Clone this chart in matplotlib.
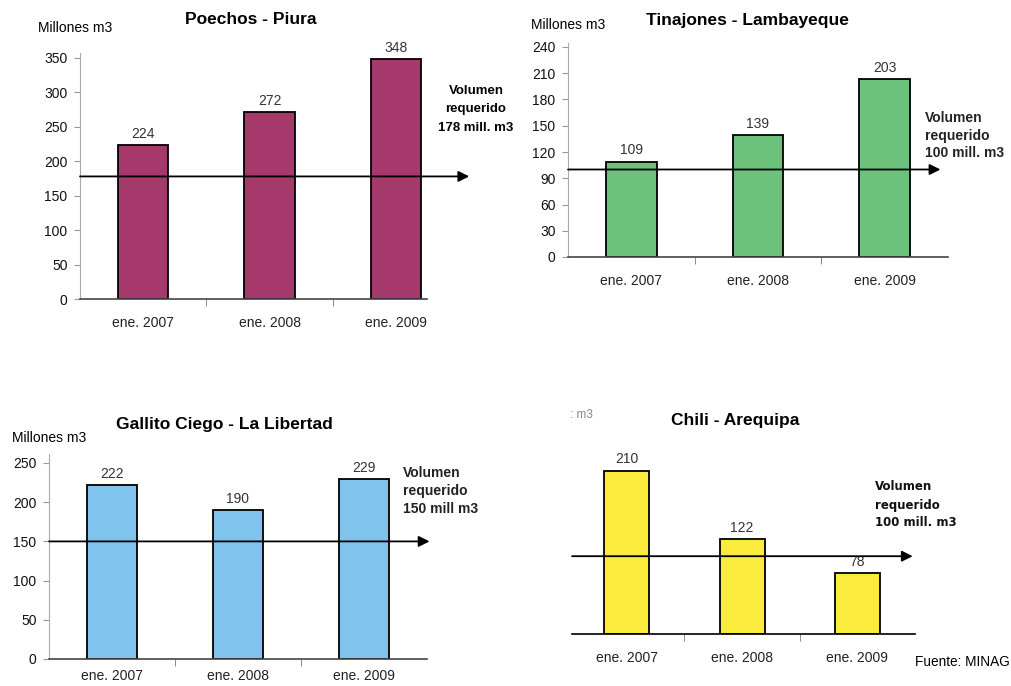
import matplotlib
matplotlib.use("Agg")
import matplotlib.pyplot as plt

plt.rcParams['font.family'] = ['Liberation Sans', 'DejaVu Sans']

# ---- data ----
fechas = ["ene. 2007", "ene. 2008", "ene. 2009"]
poechos = [224, 272, 348]
tinajones = [109, 139, 203]
gallito = [222, 190, 229]
chili = [210, 122, 78]
requerido = [178, 100, 150, 100]   # mill. m3
yticks_poechos = [0, 50, 100, 150, 200, 250, 300, 350]
yticks_tinajones = [0, 30, 60, 90, 120, 150, 180, 210, 240]
yticks_gallito = [0, 50, 100, 150, 200, 250]

W, H = 1012, 686
fig = plt.figure(figsize=(W / 100, H / 100), dpi=100)


def rect(x0, x1, y_top, y_bot):
    return [x0 / W, 1 - y_bot / H, (x1 - x0) / W, (y_bot - y_top) / H]


def ftext(x, y, s, **kw):
    fig.text(x / W, 1 - y / H, s, **kw)


def panel(r, values, color, xlim, ylim, yticks, req, arrow_end, bar_w,
          show_y=True, xpad=12):
    ax = fig.add_axes(r)
    x = list(range(len(values)))
    ax.bar(x, values, width=bar_w, color=color, edgecolor='black',
           linewidth=1.3, zorder=2)
    for xi, v in zip(x, values):
        ax.annotate(str(v), (xi, v), xytext=(0, 3), textcoords='offset points',
                    ha='center', va='bottom', fontsize=10, color='#333333')
    ax.set_xlim(*xlim)
    ax.set_ylim(*ylim)
    ax.set_xticks(x)
    ax.set_xticklabels(fechas, fontsize=10, color='#222222')
    ax.tick_params(axis='x', which='major', length=0, pad=xpad)
    ax.set_xticks([0.5, 1.5], minor=True)
    ax.tick_params(axis='x', which='minor', length=5, color='#777777')
    for s in ['top', 'right']:
        ax.spines[s].set_visible(False)
    ax.spines['bottom'].set_color('#444444')
    ax.spines['bottom'].set_linewidth(1.2)
    if show_y:
        ax.set_yticks(yticks)
        ax.tick_params(axis='y', length=4, color='#999999', labelsize=10,
                       labelcolor='#111111', pad=5)
        ax.spines['left'].set_color('#aaaaaa')
    else:
        ax.set_yticks([])
        ax.spines['left'].set_visible(False)
        ax.spines['bottom'].set_color('black')
    ax.annotate('', xy=(arrow_end, req), xytext=(xlim[0], req),
                arrowprops=dict(arrowstyle='-|>', color='black', lw=1.3,
                                mutation_scale=16, shrinkA=0, shrinkB=0),
                annotation_clip=False, zorder=3)
    ax.patch.set_alpha(0)
    return ax


# Poechos - Piura
panel(rect(80, 427, 299 - 357 * 0.6886, 299), poechos, '#a6396c',
      (-0.5, 2.246), (0, 357), yticks_poechos, requerido[0], 2.58, 0.4)
ftext(251, 20, "Poechos - Piura", ha='center', va='center',
      fontsize=12.5, fontweight='bold')
ftext(38, 28, "Millones m3", ha='left', va='center', fontsize=10)
for yy, s in zip([91, 109, 128], ["Volumen", "requerido", "178 mill. m3"]):
    ftext(476, yy, s, ha='center', va='center', fontsize=9.5,
          fontweight='bold')

# Tinajones - Lambayeque
panel(rect(568, 948, 257 - 245 * 0.875, 257), tinajones, '#6cc27c',
      (-0.5, 2.5), (0, 245), yticks_tinajones, requerido[1], 2.44, 0.4)
ftext(747, 21, "Tinajones - Lambayeque", ha='center', va='center',
      fontsize=12.5, fontweight='bold')
ftext(531, 25, "Millones m3", ha='left', va='center', fontsize=10)
for yy, s in zip([118, 136, 153], ["Volumen", "requerido", "100 mill. m3"]):
    ftext(925, yy, s, ha='left', va='center', fontsize=10, fontweight='bold',
          color='#222222')

# Gallito Ciego - La Libertad
panel(rect(49, 427, 659 - 262 * 0.784, 659), gallito, '#80c4ee',
      (-0.5, 2.5), (0, 262), yticks_gallito, requerido[2], 2.52, 0.4,
      xpad=7)
ftext(224, 425, "Gallito Ciego - La Libertad", ha='center', va='center',
      fontsize=12.5, fontweight='bold')
ftext(12, 438, "Millones m3", ha='left', va='center', fontsize=10)
for yy, s in zip([473, 491, 509], ["Volumen", "requerido", "150 mill m3"]):
    ftext(403, yy, s, ha='left', va='center', fontsize=10, fontweight='bold',
          color='#222222')

# Chili - Arequipa
panel(rect(572, 915, 634 - 230 * 0.778, 634), chili, '#fbeb3c',
      (-0.475, 2.5), (0, 230), None, requerido[3], 2.48, 0.39, show_y=False)
ftext(735, 421, "Chili - Arequipa", ha='center', va='center',
      fontsize=12.5, fontweight='bold')
ftext(570, 415, ": m3", ha='left', va='center', fontsize=8.5, color='#888888')
for yy, s in zip([487, 505, 522], ["Volumen", "requerido", "100 mill. m3"]):
    ftext(875, yy, s, ha='left', va='center', fontsize=8.5,
          fontweight='bold', family='DejaVu Sans', color='#111111')
ftext(915, 662, "Fuente: MINAG", ha='left', va='center', fontsize=9.8)

fig.savefig("out.png", dpi=100)
